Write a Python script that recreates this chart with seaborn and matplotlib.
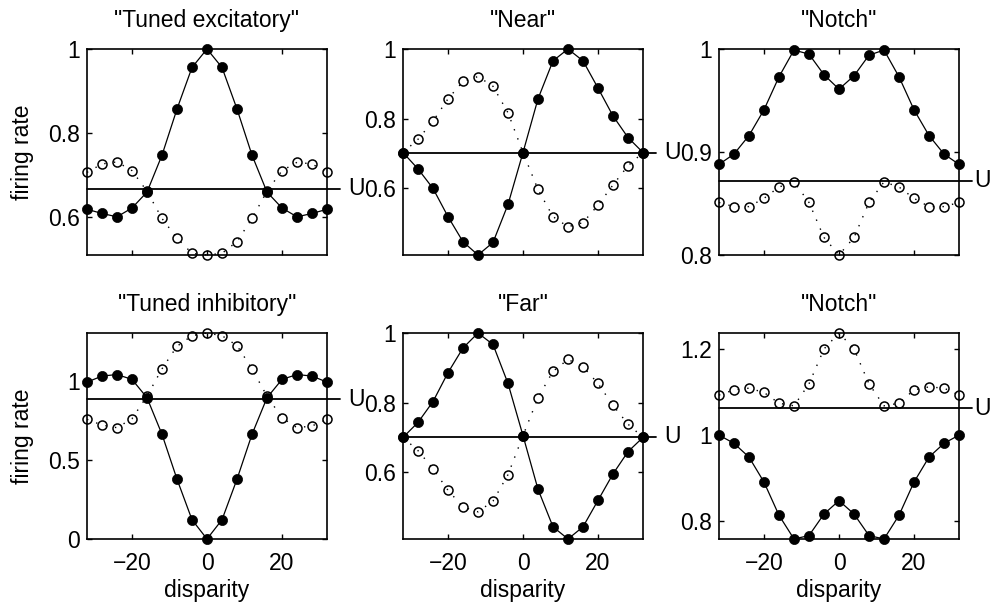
import matplotlib
matplotlib.use('Agg')
import matplotlib.pyplot as plt
import seaborn as sns
from matplotlib.ticker import FuncFormatter

# Disparity samples (shared by every panel)
disparity = [-32, -28, -24, -20, -16, -12, -8, -4, 0, 4, 8, 12, 16, 20, 24, 28, 32]

titles = ['"Tuned excitatory"', '"Near"', '"Notch"',
          '"Tuned inhibitory"', '"Far"', '"Notch"']

# filled circles (solid line) / open circles (dotted line) / U level
exc_filled = [0.618, 0.608, 0.600, 0.621, 0.659, 0.747, 0.857, 0.956, 1.000,
              0.956, 0.857, 0.747, 0.659, 0.621, 0.600, 0.608, 0.618]
exc_open = [0.706, 0.726, 0.731, 0.710, 0.661, 0.596, 0.549, 0.513, 0.509,
            0.513, 0.541, 0.596, 0.661, 0.710, 0.730, 0.726, 0.706]
exc_u = 0.667

near_filled = [0.703, 0.656, 0.600, 0.519, 0.447, 0.409, 0.445, 0.554, 0.703,
               0.857, 0.966, 1.000, 0.966, 0.888, 0.808, 0.746, 0.703]
near_open = [0.703, 0.741, 0.793, 0.857, 0.907, 0.921, 0.893, 0.817, 0.703,
             0.597, 0.519, 0.490, 0.502, 0.552, 0.610, 0.665, 0.703]
near_u = 0.703

notch1_filled = [0.888, 0.898, 0.916, 0.941, 0.973, 0.999, 0.995, 0.975, 0.961,
                 0.974, 0.994, 0.999, 0.973, 0.941, 0.916, 0.898, 0.888]
notch1_open = [0.851, 0.847, 0.847, 0.855, 0.866, 0.871, 0.851, 0.817, 0.800,
               0.817, 0.851, 0.871, 0.866, 0.855, 0.847, 0.847, 0.851]
notch1_u = 0.872

inh_filled = [0.994, 1.032, 1.042, 1.011, 0.895, 0.663, 0.379, 0.122, 0.000,
              0.122, 0.379, 0.663, 0.895, 1.011, 1.042, 1.032, 0.994]
inh_open = [0.758, 0.722, 0.705, 0.762, 0.905, 1.078, 1.221, 1.288, 1.305,
            1.288, 1.225, 1.078, 0.905, 0.768, 0.705, 0.716, 0.758]
inh_u = 0.884

far_filled = [0.700, 0.743, 0.803, 0.886, 0.957, 1.000, 0.967, 0.855, 0.705,
              0.551, 0.443, 0.408, 0.443, 0.519, 0.595, 0.659, 0.700]
far_open = [0.700, 0.662, 0.610, 0.548, 0.500, 0.486, 0.517, 0.593, 0.705,
            0.814, 0.890, 0.924, 0.903, 0.855, 0.792, 0.738, 0.700]
far_u = 0.702

notch2_filled = [1.000, 0.981, 0.949, 0.891, 0.814, 0.759, 0.767, 0.817, 0.848,
                 0.817, 0.767, 0.759, 0.814, 0.891, 0.949, 0.981, 1.000]
notch2_open = [1.093, 1.105, 1.109, 1.099, 1.074, 1.068, 1.119, 1.200, 1.237,
               1.200, 1.119, 1.068, 1.074, 1.105, 1.112, 1.109, 1.093]
notch2_u = 1.062

filled = [exc_filled, near_filled, notch1_filled, inh_filled, far_filled, notch2_filled]
opened = [exc_open, near_open, notch1_open, inh_open, far_open, notch2_open]
u_levels = [exc_u, near_u, notch1_u, inh_u, far_u, notch2_u]

yticks = [[0.6, 0.8, 1], [0.6, 0.8, 1], [0.8, 0.9, 1],
          [0, 0.5, 1], [0.6, 0.8, 1], [0.8, 1, 1.2]]
xticks = [-20, 0, 20]

sns.set_style('ticks')
plt.rcParams['font.family'] = ['Liberation Sans', 'DejaVu Sans']
plt.rcParams['font.size'] = 16.5
plt.rcParams['axes.linewidth'] = 1.2
for k in ['text.color', 'axes.labelcolor', 'xtick.color', 'ytick.color',
          'axes.edgecolor', 'axes.titlecolor']:
    plt.rcParams[k] = 'black'

W, H = 992, 614
lefts = [87, 403, 719]
tops = [49, 333]
aw, ah = 240, 206

fig = plt.figure(figsize=(W / 100, H / 100), dpi=100)

for i in range(6):
    row, col = divmod(i, 3)
    ax = fig.add_axes([lefts[col] / W, 1 - (tops[row] + ah) / H, aw / W, ah / H])

    # U reference level, runs a little past the right edge
    ax.axhline(u_levels[i], xmin=0, xmax=1.055, color='k', lw=1.3,
               clip_on=False, zorder=1)
    ux = 1.063 if col == 2 else 1.088
    ax.text(ux, u_levels[i], 'U', transform=ax.get_yaxis_transform(),
            ha='left', va='center', fontsize=16.5)

    sns.lineplot(x=disparity, y=opened[i], ax=ax, color='k', lw=1.0,
                 linestyle=(0, (1, 6)), marker='o', markersize=6.5,
                 markerfacecolor='none', markeredgecolor='k',
                 markeredgewidth=1.1, clip_on=False, estimator=None,
                 sort=False, zorder=3)
    sns.lineplot(x=disparity, y=filled[i], ax=ax, color='k', lw=0.9,
                 marker='o', markersize=7.3, markerfacecolor='k',
                 markeredgecolor='k', markeredgewidth=0.5, clip_on=False,
                 estimator=None, sort=False, zorder=4)

    lo = min(min(filled[i]), min(opened[i]))
    hi = max(max(filled[i]), max(opened[i]))
    ax.set_xlim(disparity[0], disparity[-1])
    ax.set_ylim(lo, hi)
    ax.set_xticks(xticks)
    ax.set_yticks(yticks[i])
    ax.yaxis.set_major_formatter(FuncFormatter(lambda v, _: f'{v:g}'))
    ax.tick_params(direction='in', length=3.5, width=1, top=True, right=True)
    ax.tick_params(axis='y', pad=5)
    ax.tick_params(axis='x', pad=9)

    ax.set_title(titles[i], pad=16, fontsize=16.5)
    if row == 0:
        ax.set_xticklabels([])
    else:
        ax.set_xlabel('disparity', labelpad=3)
    if col == 0:
        ax.set_ylabel('firing rate', labelpad=10)
    else:
        ax.set_ylabel('')

fig.savefig('out.png', dpi=100)
